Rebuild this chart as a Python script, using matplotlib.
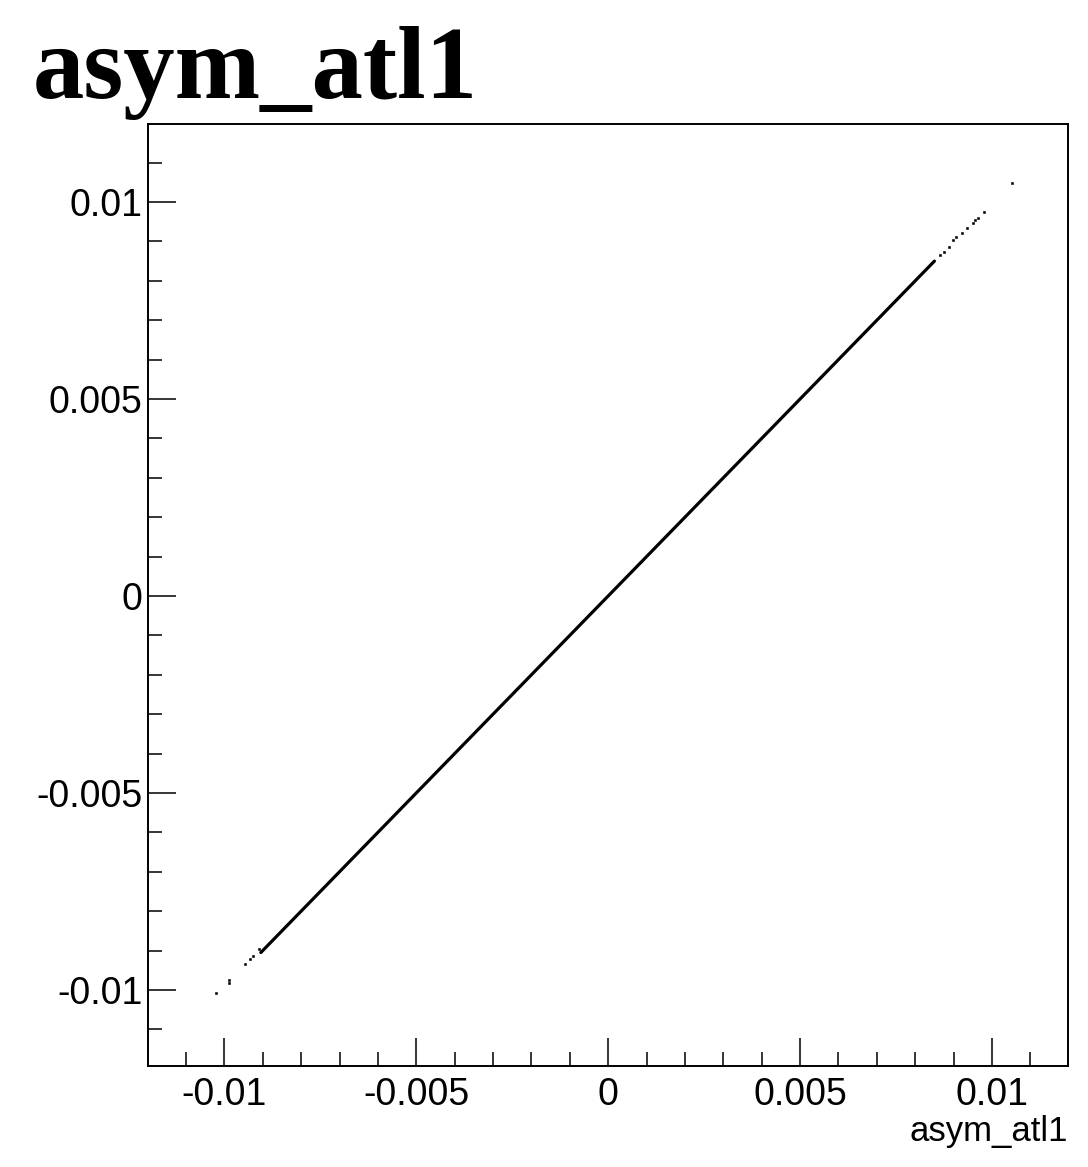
import matplotlib
matplotlib.use("Agg")
import matplotlib.pyplot as plt
from matplotlib.ticker import MultipleLocator, FixedLocator

# Data
title_text = "asym_atl1"
x_label = "asym_atl1"

# dense part of the scatter (continuous band along the diagonal)
dense_x = [-0.00905, -0.0060, -0.0030, 0.0, 0.0030, 0.0060, 0.00850]
dense_y = [-0.00905, -0.0060, -0.0030, 0.0, 0.0030, 0.0060, 0.00850]

# sparse isolated points at both ends
sparse_x = [-0.01023, -0.00988, -0.00988, -0.00946, -0.00933, -0.00926, -0.00911,
            0.00864, 0.00874, 0.00889, 0.00898, 0.00906, 0.00922, 0.00936,
            0.00950, 0.00956, 0.00963, 0.00978, 0.01051]
sparse_y = [-0.01008, -0.00975, -0.00982, -0.00934, -0.00922, -0.00915, -0.00896,
            0.00865, 0.00873, 0.00887, 0.00904, 0.00910, 0.00922, 0.00934,
            0.00947, 0.00954, 0.00960, 0.00975, 0.01049]

major_ticks = [-0.01, -0.005, 0.0, 0.005, 0.01]
major_labels = ["-0.01", "-0.005", "0", "0.005", "0.01"]
axis_lim = (-0.01199, 0.01198)
yaxis_lim = (-0.01193, 0.01198)

fig = plt.figure(figsize=(10.88, 11.67), dpi=100)
ax = fig.add_axes([148/1088, 1 - 1066/1167, (1068-148)/1088, (1066-124)/1167])

ax.plot(dense_x, dense_y, color="black", lw=2.3, solid_capstyle="round")
ax.plot(sparse_x, sparse_y, linestyle="none", marker="s", ms=2.0, color="black",
        markeredgewidth=0.4)

ax.set_xlim(*axis_lim)
ax.set_ylim(*yaxis_lim)

ax.xaxis.set_major_locator(FixedLocator(major_ticks))
ax.yaxis.set_major_locator(FixedLocator(major_ticks))
ax.set_xticklabels(major_labels)
ax.set_yticklabels(major_labels)
ax.xaxis.set_minor_locator(MultipleLocator(0.001))
ax.yaxis.set_minor_locator(MultipleLocator(0.001))

for a in ("x", "y"):
    ax.tick_params(axis=a, which="major", direction="in", length=20, width=1.1,
                   labelsize=27, pad=8, top=False, right=False)
    ax.tick_params(axis=a, which="minor", direction="in", length=10, width=1.1,
                   top=False, right=False)
for lab in ax.get_xticklabels() + ax.get_yticklabels():
    lab.set_fontfamily("Liberation Sans")
ax.tick_params(axis="y", which="major", pad=4)

for s in ax.spines.values():
    s.set_linewidth(1.4)

fig.text(1068/1088, 1 - 1141/1167, x_label, ha="right", va="baseline",
         fontsize=25, family="Liberation Sans")
fig.text(33/1088, 1 - 98/1167, title_text, ha="left", va="baseline",
         fontsize=74, fontweight="bold", family="Liberation Serif")

fig.savefig("out.png", dpi=100)
